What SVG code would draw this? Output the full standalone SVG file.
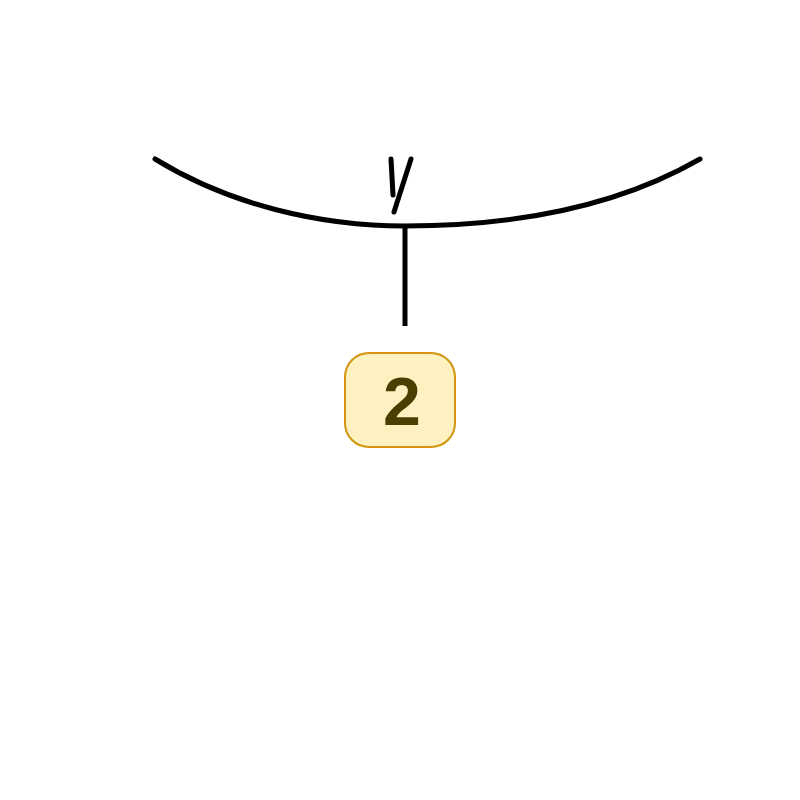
<svg xmlns="http://www.w3.org/2000/svg" width="800" height="800" viewBox="0 0 800 800">
<style>
.ln{fill:none;stroke:#000;stroke-width:5;stroke-linecap:round;stroke-linejoin:round}
.badge rect{fill:#fdf1c1;stroke:#d4940e;stroke-width:2}
.badge text{font-family:"Liberation Sans",Arial,sans-serif;font-weight:bold;font-size:68px;fill:#4a3f00;text-anchor:middle}
</style>
<rect width="800" height="800" fill="#fff"/>
<g id="connectors">
<path class="ln" d="M155,159 C230,205 320,226 405,226 C520,226 620,205 700,159"/>
<path class="ln" d="M391,159 L393,195 M411,159 L394,212"/>
<path class="ln" d="M405,228 L405,326" style="stroke-linecap:butt"/>
</g>
<g id="node-2" class="badge">
<rect x="345" y="353" width="110" height="94" rx="24"/>
<text x="402" y="425">2</text>
</g>
</svg>
